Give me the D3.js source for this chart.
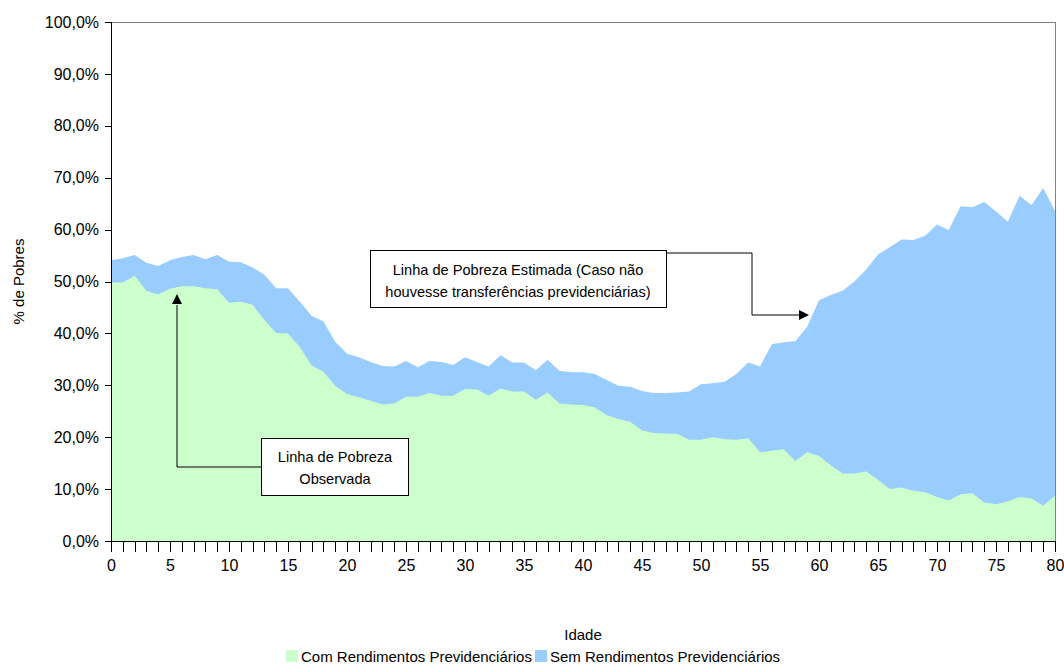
<!DOCTYPE html>
<html>
	<head>
		<script src="https://cdnjs.cloudflare.com/ajax/libs/d3/7.8.5/d3.min.js"></script>
		<title>% de Pobres por Idade</title>
	</head>

	<style>
		body {
			margin: 0;
			background-color: #fff;
		}

		svg {
			font-family: 'Liberation Sans', Arial, sans-serif;
		}

		.axis path,
		.axis line {
			stroke: #000;
			shape-rendering: crispEdges;
		}

		.axis text {
			font-size: 16px;
			fill: #000;
		}

		.note rect {
			fill: #fff;
			stroke: #000;
			stroke-width: 1px;
		}

		.note text {
			font-size: 14.6px;
		}
	</style>

	<body>
		<svg></svg>
	</body>

	<script type="text/javascript">
		// idade 0..80
		var ages = d3.range( 0, 81 );
		var age_labels = [0, 5, 10, 15, 20, 25, 30, 35, 40, 45, 50, 55, 60, 65, 70, 75, 80];
		var pct_ticks = [0, 10, 20, 30, 40, 50, 60, 70, 80, 90, 100];

		// % de pobres observado (com rendimentos previdenciarios)
		var com_prev = [
			49.8, 49.8, 51.1, 48.2, 47.5, 48.6, 49.1, 49.1, 48.7, 48.5,
			45.9, 46.1, 45.5, 42.6, 40.1, 40.0, 37.4, 33.8, 32.6, 29.9,
			28.3, 27.7, 27.0, 26.3, 26.5, 27.8, 27.8, 28.5, 28.0, 28.0,
			29.3, 29.2, 28.0, 29.4, 28.8, 28.8, 27.2, 28.6, 26.5, 26.3,
			26.2, 25.7, 24.3, 23.5, 23.0, 21.3, 20.8, 20.7, 20.6, 19.5,
			19.5, 20.0, 19.6, 19.5, 19.8, 17.1, 17.4, 17.7, 15.4, 17.1,
			16.4, 14.6, 13.0, 13.0, 13.4, 11.8, 10.0, 10.3, 9.7, 9.4,
			8.5, 7.8, 9.0, 9.2, 7.4, 7.1, 7.6, 8.5, 8.2, 6.8,
			8.7
		];

		// % de pobres estimado (sem rendimentos previdenciarios)
		var sem_prev = [
			54.1, 54.5, 55.1, 53.6, 53.0, 54.1, 54.7, 55.1, 54.3, 55.1,
			53.8, 53.7, 52.7, 51.3, 48.7, 48.7, 46.1, 43.4, 42.3, 38.4,
			36.1, 35.4, 34.5, 33.7, 33.6, 34.7, 33.5, 34.7, 34.5, 33.9,
			35.4, 34.5, 33.6, 35.8, 34.4, 34.4, 32.9, 34.9, 32.8, 32.5,
			32.5, 32.2, 31.0, 29.9, 29.7, 28.9, 28.5, 28.5, 28.6, 28.8,
			30.2, 30.4, 30.7, 32.2, 34.4, 33.6, 37.9, 38.3, 38.5, 41.3,
			46.4, 47.4, 48.2, 50.0, 52.3, 55.2, 56.6, 58.1, 58.0, 58.8,
			61.0, 59.9, 64.5, 64.3, 65.3, 63.5, 61.5, 66.5, 64.7, 68.0,
			63.6
		];

		var series_names = ['Com Rendimentos Previdenciários', 'Sem Rendimentos Previdenciários'];
		var series_colors = ['#ccffcc', '#99ccff'];

		var width = 1064;
		var height = 666;
		var margin = { top: 22, right: 9, bottom: 125, left: 111 };

		var svg = d3.select( 'svg' )
			.attr( 'width', width )
			.attr( 'height', height );

		var x = d3.scaleLinear()
			.domain( [0, 80] )
			.range( [margin.left, width - margin.right] );

		var y = d3.scaleLinear()
			.domain( [0, 100] )
			.range( [height - margin.bottom, margin.top] );

		function area_for( values ) {
			return d3.area()
				.x( function( d ) { return x( d ); } )
				.y0( y( 0 ) )
				.y1( function( d ) { return y( values[d] ); } )( ages );
		}

		// plot border (grey, top + right)
		svg.append( 'rect' )
			.attr( 'x', x( 0 ) )
			.attr( 'y', y( 100 ) )
			.attr( 'width', x( 80 ) - x( 0 ) )
			.attr( 'height', y( 0 ) - y( 100 ) )
			.attr( 'fill', 'none' )
			.attr( 'stroke', '#808080' )
			.attr( 'shape-rendering', 'crispEdges' );

		// estimated line behind, observed in front
		svg.append( 'path' )
			.attr( 'd', area_for( sem_prev ) )
			.attr( 'fill', series_colors[1] );

		svg.append( 'path' )
			.attr( 'd', area_for( com_prev ) )
			.attr( 'fill', series_colors[0] );

		var y_axis = d3.axisLeft( y )
			.tickValues( pct_ticks )
			.tickSize( 6 )
			.tickPadding( 6 )
			.tickFormat( function( d ) { return d.toFixed( 1 ).replace( '.', ',' ) + '%'; } );

		svg.append( 'g' )
			.attr( 'class', 'axis' )
			.attr( 'transform', 'translate(' + x( 0 ) + ',0)' )
			.call( y_axis )
			.call( function( g ) { g.select( '.domain' ).attr( 'd', 'M0,' + y( 100 ) + 'V' + y( 0 ) ); } );

		var x_axis = d3.axisBottom( x )
			.tickValues( ages )
			.tickSize( 11 )
			.tickPadding( 8 )
			.tickFormat( function( d ) { return age_labels.indexOf( d ) >= 0 ? d : ''; } );

		svg.append( 'g' )
			.attr( 'class', 'axis' )
			.attr( 'transform', 'translate(0,' + y( 0 ) + ')' )
			.call( x_axis )
			.call( function( g ) { g.select( '.domain' ).attr( 'd', 'M' + x( 0 ) + ',0H' + x( 80 ) ); } );

		// axis titles
		svg.append( 'text' )
			.attr( 'transform', 'translate(24,' + ( y( 50 ) ) + ') rotate(-90)' )
			.attr( 'text-anchor', 'middle' )
			.style( 'font-size', '15px' )
			.text( '% de Pobres' );

		svg.append( 'text' )
			.attr( 'x', 583 )
			.attr( 'y', 640 )
			.attr( 'text-anchor', 'middle' )
			.style( 'font-size', '15px' )
			.text( 'Idade' );

		// legend
		var legend = svg.append( 'g' )
			.attr( 'transform', 'translate(286,650)' );
		var leg_x = [0, 249];
		series_names.forEach( function( name, i ) {
			legend.append( 'rect' )
				.attr( 'x', leg_x[i] )
				.attr( 'y', 0 )
				.attr( 'width', 12 )
				.attr( 'height', 12 )
				.attr( 'fill', series_colors[i] );
			legend.append( 'text' )
				.attr( 'x', leg_x[i] + 15 )
				.attr( 'y', 12 )
				.style( 'font-size', '15px' )
				.text( name );
		} );

		// annotations
		function arrow_head( g, tx, ty, dir ) {
			var pts = dir == 'right'
				? [[tx, ty], [tx - 10, ty - 5], [tx - 10, ty + 5]]
				: [[tx, ty], [tx - 5, ty + 10], [tx + 5, ty + 10]];
			g.append( 'path' )
				.attr( 'd', 'M' + pts.join( 'L' ) + 'Z' )
				.attr( 'fill', '#000' );
		}

		var note1 = svg.append( 'g' ).attr( 'class', 'note' );
		note1.append( 'path' )
			.attr( 'd', 'M667,253H752V315H799' )
			.attr( 'fill', 'none' )
			.attr( 'stroke', '#000' );
		arrow_head( note1, 809, 315, 'right' );
		note1.append( 'rect' )
			.attr( 'x', 370.5 ).attr( 'y', 250.5 )
			.attr( 'width', 296 ).attr( 'height', 57 );
		note1.append( 'text' )
			.attr( 'x', 518 ).attr( 'y', 275 )
			.attr( 'text-anchor', 'middle' )
			.text( 'Linha de Pobreza Estimada (Caso não' );
		note1.append( 'text' )
			.attr( 'x', 518 ).attr( 'y', 297 )
			.attr( 'text-anchor', 'middle' )
			.text( 'houvesse transferências previdenciárias)' );

		var note2 = svg.append( 'g' ).attr( 'class', 'note' );
		note2.append( 'path' )
			.attr( 'd', 'M261,467H177V305' )
			.attr( 'fill', 'none' )
			.attr( 'stroke', '#000' );
		arrow_head( note2, 177, 294, 'up' );
		note2.append( 'rect' )
			.attr( 'x', 261.5 ).attr( 'y', 438.5 )
			.attr( 'width', 147 ).attr( 'height', 57 );
		note2.append( 'text' )
			.attr( 'x', 335 ).attr( 'y', 462 )
			.attr( 'text-anchor', 'middle' )
			.text( 'Linha de Pobreza' );
		note2.append( 'text' )
			.attr( 'x', 335 ).attr( 'y', 484 )
			.attr( 'text-anchor', 'middle' )
			.text( 'Observada' );
	</script>

</html>
